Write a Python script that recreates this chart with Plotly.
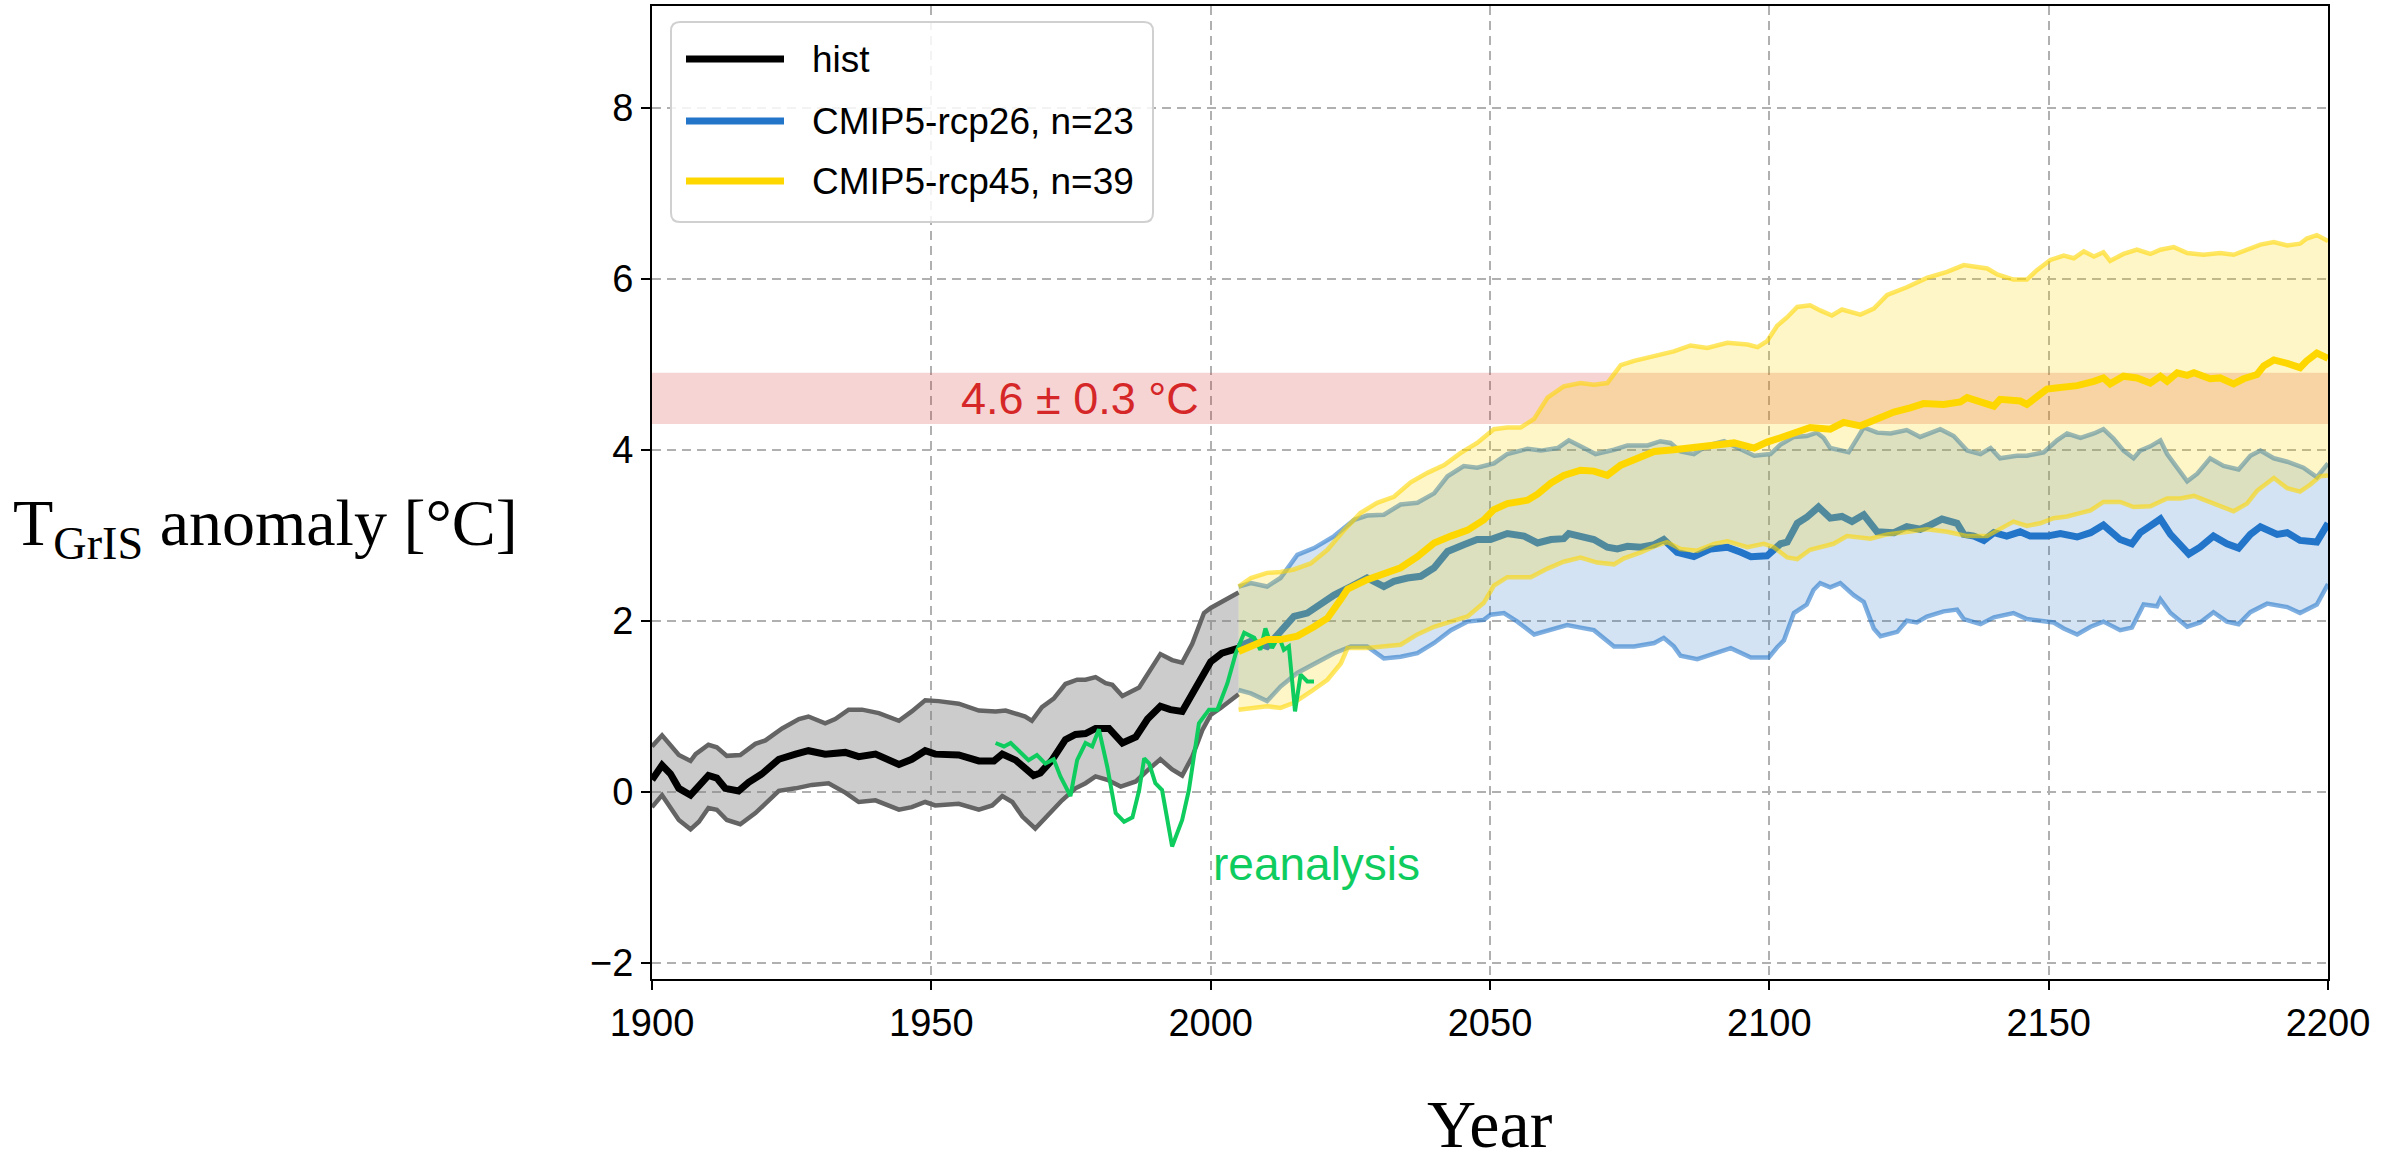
import plotly.graph_objects as go

# ------------------------------------------------------------------ data
hist_mean_years = [1900, 1901.8, 1903.3, 1904.8, 1906.9, 1908.4, 1910.1, 1911.6, 1913.1, 1915.5,
                   1917.3, 1919.7, 1922.7, 1925.7, 1928.0, 1931.0, 1934.6, 1937.0, 1940.0, 1944.2,
                   1946.5, 1948.9, 1950.7, 1954.9, 1958.5, 1961.2, 1962.7, 1965.1, 1966.8, 1968.3,
                   1969.5, 1971.6, 1974.0, 1975.8, 1977.6, 1979.4, 1981.8, 1984.2, 1986.6, 1988.7,
                   1991.0, 1992.8, 1994.9, 1996.7, 1998.5, 2000.0, 2002.0, 2005.0]
hist_mean = [0.14, 0.31, 0.21, 0.04, -0.04, 0.08, 0.19, 0.16, 0.04, 0.01,
             0.11, 0.21, 0.38, 0.44, 0.48, 0.44, 0.46, 0.41, 0.44, 0.32,
             0.38, 0.48, 0.44, 0.43, 0.36, 0.36, 0.44, 0.37, 0.28, 0.19,
             0.22, 0.37, 0.61, 0.67, 0.68, 0.74, 0.74, 0.57, 0.64, 0.85,
             1.00, 0.96, 0.94, 1.15, 1.38, 1.52, 1.62, 1.68]

hist_hi_years = [1900, 1901.8, 1904.8, 1906.9, 1907.8, 1910.1, 1911.6, 1913.4, 1915.8, 1918.5,
                 1920.3, 1923.3, 1926.3, 1928.0, 1931.0, 1932.8, 1935.2, 1937.6, 1940.6, 1944.2,
                 1946.5, 1948.9, 1951.3, 1954.9, 1958.5, 1961.5, 1963.3, 1966.8, 1968.0, 1969.8,
                 1971.9, 1974.0, 1976.1, 1977.6, 1979.4, 1981.2, 1982.4, 1984.2, 1987.2, 1988.9,
                 1991.0, 1993.1, 1994.9, 1996.7, 1998.8, 2000.0, 2001.8, 2004.2, 2005.0]
hist_hi = [0.53, 0.66, 0.43, 0.36, 0.44, 0.55, 0.52, 0.42, 0.43, 0.56,
           0.60, 0.74, 0.85, 0.88, 0.80, 0.85, 0.96, 0.96, 0.92, 0.83,
           0.94, 1.07, 1.06, 1.03, 0.95, 0.94, 0.95, 0.88, 0.83, 0.99,
           1.09, 1.26, 1.31, 1.31, 1.34, 1.27, 1.25, 1.12, 1.22, 1.39,
           1.61, 1.54, 1.51, 1.73, 2.09, 2.15, 2.21, 2.30, 2.33]

hist_lo_years = [1900, 1901.8, 1904.8, 1906.9, 1908.4, 1910.1, 1911.6, 1913.4, 1915.8, 1918.5,
                 1920.3, 1922.7, 1925.7, 1928.6, 1931.6, 1934.6, 1937.0, 1940.0, 1944.2, 1946.5,
                 1948.9, 1950.7, 1954.9, 1958.5, 1960.9, 1962.7, 1964.5, 1966.3, 1968.6, 1971.0,
                 1973.4, 1975.8, 1977.6, 1979.4, 1981.5, 1983.9, 1986.6, 1988.7, 1991.0, 1993.1,
                 1994.9, 1996.7, 1998.5, 2000.0, 2001.8, 2005.0]
hist_lo = [-0.18, -0.04, -0.33, -0.44, -0.35, -0.19, -0.21, -0.33, -0.38, -0.25,
           -0.14, 0.01, 0.04, 0.08, 0.10, -0.01, -0.12, -0.10, -0.21, -0.18,
           -0.12, -0.16, -0.14, -0.21, -0.16, -0.05, -0.12, -0.29, -0.43, -0.27,
           -0.10, 0.04, 0.10, 0.18, 0.14, 0.06, 0.12, 0.25, 0.38, 0.26,
           0.19, 0.41, 0.72, 0.90, 0.98, 1.14]

rea_years = [1961.5, 1963.0, 1964.2, 1965.7, 1967.4, 1968.9, 1970.4, 1971.9, 1973.1, 1974.9,
             1976.1, 1977.6, 1978.8, 1980.0, 1981.5, 1983.0, 1984.5, 1986.0, 1987.2, 1988.1,
             1989.0, 1990.1, 1991.3, 1993.1, 1994.9, 1996.1, 1997.9, 1999.7, 2001.2, 2003.0,
             2004.5, 2006.0, 2007.8, 2008.9, 2009.8, 2011.0, 2012.2, 2013.1, 2014.0, 2015.1,
             2016.1, 2017.3, 2018.5]
rea_vals = [0.57, 0.53, 0.57, 0.47, 0.37, 0.43, 0.33, 0.38, 0.18, -0.05,
            0.37, 0.57, 0.53, 0.73, 0.29, -0.25, -0.35, -0.30, 0.02, 0.39,
            0.33, 0.10, 0.02, -0.64, -0.33, 0.02, 0.80, 0.96, 0.96, 1.27,
            1.62, 1.86, 1.80, 1.66, 1.91, 1.68, 1.82, 1.66, 1.70, 0.94,
            1.37, 1.29, 1.29]

rcp26_mean_years = [2005.0, 2007.2, 2010.1, 2012.5, 2014.9, 2017.3, 2019.7, 2022.1, 2025.1, 2028.0,
                    2031.0, 2032.8, 2035.2, 2037.6, 2040.0, 2042.4, 2045.3, 2047.7, 2050.1, 2053.1,
                    2056.1, 2058.5, 2060.9, 2063.2, 2064.1, 2066.2, 2068.6, 2071.0, 2072.8, 2074.6,
                    2077.0, 2079.4, 2081.1, 2083.5, 2086.5, 2089.5, 2092.5, 2094.9, 2096.7, 2099.6,
                    2102.0, 2103.2, 2105.0, 2106.7, 2108.8, 2110.9, 2113.0, 2114.8, 2116.9, 2119.3,
                    2122.3, 2124.6, 2127.0, 2128.8, 2130.9, 2133.6, 2134.8, 2136.6, 2138.4, 2140.2,
                    2142.5, 2144.9, 2146.7, 2149.7, 2152.1, 2155.1, 2157.5, 2159.8, 2162.8, 2164.9,
                    2166.4, 2168.2, 2170.0, 2171.8, 2175.1, 2177.1, 2179.5, 2181.9, 2184.0, 2186.1,
                    2187.9, 2190.9, 2192.7, 2195.0, 2198.0, 2200.0]
rcp26_mean = [1.70, 1.76, 1.70, 1.88, 2.05, 2.09, 2.19, 2.30, 2.40, 2.50,
              2.40, 2.46, 2.50, 2.52, 2.62, 2.81, 2.89, 2.95, 2.95, 3.02,
              2.99, 2.91, 2.95, 2.96, 3.02, 2.98, 2.95, 2.86, 2.84, 2.87,
              2.86, 2.89, 2.95, 2.80, 2.75, 2.84, 2.86, 2.80, 2.75, 2.76,
              2.90, 2.92, 3.14, 3.21, 3.33, 3.20, 3.22, 3.16, 3.24, 3.04,
              3.03, 3.10, 3.07, 3.12, 3.19, 3.14, 3.01, 2.99, 2.94, 3.03,
              2.99, 3.04, 2.99, 2.99, 3.02, 2.98, 3.03, 3.12, 2.95, 2.90,
              3.03, 3.11, 3.19, 3.01, 2.78, 2.86, 2.99, 2.90, 2.85, 3.01,
              3.10, 3.01, 3.03, 2.94, 2.92, 3.14]

rcp26_hi_years = [2005.0, 2007.2, 2010.1, 2012.5, 2015.5, 2018.5, 2022.1, 2025.7, 2028.0, 2031.0,
                  2034.0, 2037.0, 2040.0, 2042.4, 2045.3, 2047.7, 2050.7, 2053.1, 2056.7, 2059.1,
                  2062.1, 2064.1, 2066.2, 2068.9, 2072.2, 2074.6, 2078.2, 2080.5, 2082.3, 2084.1,
                  2086.5, 2088.9, 2091.9, 2094.9, 2097.3, 2100.2, 2102.0, 2104.4, 2106.7, 2108.5,
                  2109.7, 2110.9, 2112.7, 2114.2, 2115.7, 2116.9, 2119.3, 2121.7, 2124.6, 2127.0,
                  2130.6, 2133.0, 2135.4, 2137.8, 2139.6, 2141.3, 2144.3, 2146.1, 2149.1, 2151.5,
                  2153.3, 2155.7, 2158.1, 2159.8, 2161.6, 2163.4, 2165.2, 2166.4, 2168.2, 2170.0,
                  2171.2, 2173.0, 2174.8, 2176.6, 2178.9, 2181.3, 2184.0, 2186.1, 2187.9, 2190.3,
                  2192.7, 2195.6, 2198.0, 2200.0]
rcp26_hi = [2.40, 2.44, 2.40, 2.50, 2.77, 2.85, 2.99, 3.18, 3.23, 3.24,
            3.36, 3.38, 3.49, 3.69, 3.81, 3.79, 3.84, 3.95, 4.01, 3.99,
            4.02, 4.11, 4.04, 3.95, 4.00, 4.05, 4.05, 4.10, 4.08, 3.98,
            3.95, 4.05, 4.10, 4.00, 3.93, 3.95, 4.06, 4.15, 4.16, 4.20,
            4.14, 4.02, 3.99, 3.97, 4.13, 4.26, 4.20, 4.19, 4.23, 4.15,
            4.24, 4.16, 3.99, 3.95, 4.02, 3.90, 3.93, 3.93, 3.97, 4.11,
            4.19, 4.14, 4.19, 4.24, 4.13, 3.99, 3.90, 3.99, 4.04, 4.11,
            3.95, 3.79, 3.63, 3.72, 3.90, 3.81, 3.77, 3.93, 3.99, 3.90,
            3.86, 3.79, 3.68, 3.84]

rcp26_lo_years = [2005.0, 2007.2, 2010.1, 2012.5, 2015.5, 2018.5, 2022.1, 2025.1, 2028.0, 2031.0,
                  2034.0, 2037.0, 2040.0, 2043.0, 2046.0, 2048.9, 2050.1, 2052.5, 2054.9, 2057.9,
                  2060.9, 2063.8, 2066.2, 2068.6, 2072.2, 2075.8, 2079.4, 2081.1, 2082.9, 2084.1,
                  2087.1, 2090.1, 2093.1, 2096.7, 2099.9, 2101.4, 2102.6, 2104.4, 2106.7, 2107.9,
                  2109.1, 2110.9, 2112.7, 2115.1, 2116.9, 2118.7, 2119.9, 2122.9, 2124.6, 2126.4,
                  2128.2, 2131.2, 2133.6, 2134.8, 2137.8, 2140.2, 2143.7, 2146.1, 2149.1, 2150.9,
                  2152.7, 2155.1, 2157.5, 2159.8, 2162.8, 2164.9, 2167.0, 2169.4, 2170.0, 2171.8,
                  2174.8, 2177.1, 2179.5, 2181.9, 2184.0, 2186.1, 2189.1, 2192.7, 2195.0, 2198.0,
                  2200.0]
rcp26_lo = [1.19, 1.15, 1.06, 1.23, 1.39, 1.50, 1.62, 1.70, 1.70, 1.56,
            1.58, 1.62, 1.74, 1.89, 1.99, 2.01, 2.07, 2.09, 1.99, 1.84,
            1.89, 1.95, 1.92, 1.89, 1.70, 1.70, 1.74, 1.80, 1.70, 1.59,
            1.55, 1.61, 1.68, 1.57, 1.57, 1.69, 1.77, 2.09, 2.19, 2.36,
            2.44, 2.39, 2.44, 2.30, 2.22, 1.91, 1.82, 1.87, 2.00, 1.98,
            2.05, 2.11, 2.13, 2.02, 1.96, 2.04, 2.09, 2.02, 2.00, 1.98,
            1.91, 1.84, 1.93, 1.99, 1.89, 1.92, 2.19, 2.17, 2.25, 2.09,
            1.93, 1.98, 2.10, 1.99, 1.96, 2.10, 2.20, 2.16, 2.09, 2.19,
            2.43]

rcp45_mean_years = [2005.0, 2007.2, 2010.1, 2012.5, 2015.5, 2018.5, 2020.9, 2023.3, 2024.5, 2028.0,
                    2031.0, 2034.0, 2037.0, 2040.0, 2043.0, 2046.0, 2048.9, 2050.7, 2053.1, 2056.7,
                    2058.5, 2060.9, 2063.2, 2066.2, 2068.6, 2071.0, 2073.4, 2075.8, 2079.4, 2082.9,
                    2085.3, 2087.7, 2090.1, 2093.7, 2097.3, 2099.6, 2102.0, 2104.4, 2107.3, 2110.9,
                    2113.3, 2116.3, 2119.3, 2122.3, 2125.2, 2127.6, 2131.2, 2134.2, 2135.4, 2137.8,
                    2140.2, 2141.3, 2144.9, 2146.1, 2147.9, 2149.7, 2150.9, 2153.3, 2155.1, 2158.1,
                    2159.8, 2161.0, 2163.4, 2165.8, 2168.2, 2170.0, 2171.2, 2173.0, 2174.8, 2176.0,
                    2178.9, 2180.7, 2183.1, 2184.9, 2187.3, 2188.5, 2190.3, 2192.7, 2195.0, 2196.2,
                    2198.0, 2200.0]
rcp45_mean = [1.64, 1.70, 1.78, 1.78, 1.82, 1.93, 2.03, 2.25, 2.37, 2.48,
              2.56, 2.62, 2.75, 2.91, 2.99, 3.06, 3.18, 3.30, 3.37, 3.41,
              3.48, 3.61, 3.70, 3.76, 3.75, 3.70, 3.82, 3.89, 3.98, 4.00,
              4.02, 4.02, 4.05, 4.08, 4.02, 4.09, 4.14, 4.19, 4.26, 4.24,
              4.32, 4.28, 4.36, 4.44, 4.49, 4.54, 4.53, 4.56, 4.61, 4.57,
              4.51, 4.59, 4.57, 4.53, 4.62, 4.71, 4.72, 4.74, 4.75, 4.80,
              4.84, 4.77, 4.86, 4.84, 4.78, 4.86, 4.80, 4.90, 4.87, 4.90,
              4.83, 4.84, 4.77, 4.83, 4.88, 4.98, 5.05, 5.01, 4.96, 5.04,
              5.13, 5.07]

rcp45_hi_years = [2005.0, 2007.2, 2010.1, 2012.5, 2014.9, 2017.9, 2020.9, 2023.9, 2026.8, 2029.8,
                  2032.8, 2035.8, 2038.8, 2041.8, 2044.7, 2047.7, 2050.7, 2053.1, 2055.5, 2057.9,
                  2060.3, 2063.2, 2066.2, 2068.6, 2071.0, 2073.4, 2075.8, 2079.4, 2082.9, 2085.9,
                  2088.9, 2092.5, 2096.1, 2097.9, 2099.6, 2101.4, 2103.2, 2105.0, 2107.3, 2109.1,
                  2111.2, 2113.0, 2116.3, 2118.7, 2121.1, 2124.6, 2128.2, 2131.8, 2134.8, 2139.0,
                  2140.8, 2143.7, 2146.1, 2147.9, 2150.3, 2152.7, 2154.5, 2156.3, 2158.1, 2159.8,
                  2161.0, 2163.4, 2165.8, 2168.2, 2170.0, 2172.4, 2174.8, 2177.7, 2180.7, 2183.1,
                  2185.5, 2187.9, 2190.3, 2192.7, 2195.0, 2196.2, 2198.0, 2200.0]
rcp45_hi = [2.40, 2.50, 2.56, 2.57, 2.60, 2.67, 2.83, 3.06, 3.26, 3.38,
            3.45, 3.62, 3.73, 3.82, 3.96, 4.08, 4.24, 4.26, 4.26, 4.36,
            4.61, 4.74, 4.78, 4.76, 4.78, 4.99, 5.04, 5.10, 5.15, 5.22,
            5.19, 5.25, 5.23, 5.20, 5.27, 5.45, 5.55, 5.67, 5.69, 5.63,
            5.57, 5.64, 5.58, 5.65, 5.81, 5.90, 6.01, 6.08, 6.16, 6.12,
            6.05, 5.99, 5.99, 6.10, 6.22, 6.27, 6.24, 6.32, 6.26, 6.31,
            6.21, 6.29, 6.34, 6.29, 6.34, 6.37, 6.30, 6.28, 6.30, 6.28,
            6.34, 6.40, 6.43, 6.39, 6.41, 6.47, 6.51, 6.44]

rcp45_lo_years = [2005.0, 2007.2, 2010.1, 2012.5, 2014.9, 2017.9, 2020.9, 2023.3, 2024.5, 2028.0,
                  2031.6, 2034.0, 2037.0, 2040.0, 2043.0, 2046.0, 2048.9, 2050.7, 2053.1, 2057.3,
                  2060.3, 2063.2, 2066.2, 2069.2, 2072.2, 2074.0, 2077.0, 2079.4, 2081.7, 2084.1,
                  2087.1, 2090.1, 2092.5, 2096.1, 2099.0, 2100.8, 2103.2, 2105.0, 2107.3, 2109.7,
                  2111.5, 2113.9, 2118.1, 2121.1, 2124.0, 2128.2, 2131.8, 2135.4, 2139.0, 2141.3,
                  2143.7, 2146.1, 2148.5, 2150.9, 2153.3, 2155.1, 2157.5, 2159.8, 2162.8, 2165.2,
                  2168.2, 2171.2, 2173.6, 2176.0, 2178.9, 2180.7, 2183.1, 2185.5, 2187.3, 2190.3,
                  2192.7, 2195.0, 2196.8, 2198.6, 2200.0]
rcp45_lo = [0.96, 0.98, 1.00, 0.98, 1.04, 1.17, 1.31, 1.50, 1.68, 1.68,
            1.70, 1.72, 1.84, 1.93, 1.99, 2.05, 2.21, 2.41, 2.51, 2.51,
            2.61, 2.69, 2.74, 2.68, 2.66, 2.73, 2.80, 2.87, 2.92, 2.84,
            2.82, 2.90, 2.93, 2.86, 2.90, 2.86, 2.74, 2.72, 2.83, 2.87,
            2.90, 2.99, 2.96, 3.01, 3.03, 3.07, 3.04, 2.99, 2.99, 3.07,
            3.16, 3.11, 3.14, 3.20, 3.22, 3.25, 3.29, 3.39, 3.39, 3.33,
            3.34, 3.43, 3.43, 3.46, 3.39, 3.35, 3.28, 3.37, 3.52, 3.67,
            3.55, 3.51, 3.59, 3.69, 3.70]

threshold_center = 4.6
threshold_err = 0.3
x_ticks = [1900, 1950, 2000, 2050, 2100, 2150, 2200]
y_ticks = [-2, 0, 2, 4, 6, 8]
legend_labels = ["hist", "CMIP5-rcp26, n=23", "CMIP5-rcp45, n=39"]

# ------------------------------------------------------------------ styling
C_HIST = "#000000"
C_HIST_EDGE = "#646464"
C_HIST_FILL = "rgba(128,128,128,0.40)"
C_26 = "#2275C9"
C_26_EDGE = "rgba(34,117,201,0.58)"
C_26_FILL = "rgba(34,117,201,0.20)"
C_45 = "#FFD700"
C_45_EDGE = "rgba(255,215,0,0.60)"
C_45_FILL = "rgba(255,215,0,0.22)"
C_REA = "#0fcc5f"
C_RED = "#d62728"
SANS = "Liberation Sans, Arial, sans-serif"
SERIF = "Liberation Serif, Times New Roman, serif"

FIG_W, FIG_H = 2405, 1163
M_L, M_R, M_T, M_B = 652, 77, 6, 184
PLOT_W = FIG_W - M_L - M_R
PLOT_H = FIG_H - M_T - M_B


def xp(p):
    return (p - M_L) / PLOT_W


def yp(p):
    return (FIG_H - M_B - p) / PLOT_H


fig = go.Figure()


def band(xh, yh, xl, yl, color, name):
    fig.add_trace(go.Scatter(x=list(xh) + list(xl)[::-1], y=list(yh) + list(yl)[::-1],
                             fill="toself", fillcolor=color, mode="lines",
                             line=dict(width=0), hoverinfo="skip", showlegend=False, name=name))


def line(x, y, color, width, name):
    fig.add_trace(go.Scatter(x=x, y=y, mode="lines", line=dict(color=color, width=width),
                             showlegend=False, name=name))


band(hist_hi_years, hist_hi, hist_lo_years, hist_lo, C_HIST_FILL, "hist range")
line(hist_hi_years, hist_hi, C_HIST_EDGE, 4.5, "hist max")
line(hist_lo_years, hist_lo, C_HIST_EDGE, 4.5, "hist min")

band(rcp26_hi_years, rcp26_hi, rcp26_lo_years, rcp26_lo, C_26_FILL, "rcp26 range")
line(rcp26_hi_years, rcp26_hi, C_26_EDGE, 4.5, "rcp26 max")
line(rcp26_lo_years, rcp26_lo, C_26_EDGE, 4.5, "rcp26 min")
line(rcp26_mean_years, rcp26_mean, C_26, 7, "CMIP5-rcp26, n=23")

band(rcp45_hi_years, rcp45_hi, rcp45_lo_years, rcp45_lo, C_45_FILL, "rcp45 range")
line(rcp45_hi_years, rcp45_hi, C_45_EDGE, 4.5, "rcp45 max")
line(rcp45_lo_years, rcp45_lo, C_45_EDGE, 4.5, "rcp45 min")

line(hist_mean_years, hist_mean, C_HIST, 7, "hist")
line(rea_years, rea_vals, C_REA, 4, "reanalysis")
line(rcp45_mean_years, rcp45_mean, C_45, 7, "CMIP5-rcp45, n=39")

shapes = [dict(type="rect", xref="x", yref="y", x0=x_ticks[0], x1=x_ticks[-1],
               y0=threshold_center - threshold_err, y1=threshold_center + threshold_err,
               fillcolor="rgba(214,39,40,0.20)", line=dict(width=0), layer="between")]

# ---------------- legend (drawn manually to mimic the long line samples)
bx0, bx1, by0, by1, r = 671, 1153, 22, 222, 9
path = (f"M {xp(bx0 + r)},{yp(by0)} L {xp(bx1 - r)},{yp(by0)} "
        f"Q {xp(bx1)},{yp(by0)} {xp(bx1)},{yp(by0 + r)} L {xp(bx1)},{yp(by1 - r)} "
        f"Q {xp(bx1)},{yp(by1)} {xp(bx1 - r)},{yp(by1)} L {xp(bx0 + r)},{yp(by1)} "
        f"Q {xp(bx0)},{yp(by1)} {xp(bx0)},{yp(by1 - r)} L {xp(bx0)},{yp(by0 + r)} "
        f"Q {xp(bx0)},{yp(by0)} {xp(bx0 + r)},{yp(by0)} Z")
shapes.append(dict(type="path", xref="paper", yref="paper", path=path,
                   fillcolor="rgba(255,255,255,0.85)", line=dict(color="#d0d0d0", width=2),
                   layer="above"))
annotations = []
for label, color, ypx in zip(legend_labels, [C_HIST, C_26, C_45], [59, 121, 181]):
    shapes.append(dict(type="line", xref="paper", yref="paper", x0=xp(686), x1=xp(784),
                       y0=yp(ypx), y1=yp(ypx), line=dict(color=color, width=7), layer="above"))
    annotations.append(dict(x=xp(810), y=yp(ypx), xref="paper", yref="paper", text=label,
                            showarrow=False, xanchor="left", yanchor="middle",
                            font=dict(family=SANS, size=37, color="black")))

annotations += [
    dict(x=1955, y=threshold_center, xref="x", yref="y", text="4.6 ± 0.3 °C", showarrow=False,
         xanchor="left", yanchor="middle", font=dict(family=SANS, size=45, color=C_RED)),
    dict(x=2000, y=-0.85, xref="x", yref="y", text="reanalysis", showarrow=False,
         xanchor="left", yanchor="middle", font=dict(family=SANS, size=46, color=C_REA)),
    dict(x=xp(265), y=yp(527), xref="paper", yref="paper",
         text="T<sub>GrIS</sub> anomaly [°C]", showarrow=False, xanchor="center",
         yanchor="middle", font=dict(family=SERIF, size=66, color="black")),
    dict(x=0.5, y=yp(1124), xref="paper", yref="paper", text="Year", showarrow=False,
         xanchor="center", yanchor="middle", font=dict(family=SERIF, size=68, color="black")),
]

axis_common = dict(showgrid=True, gridcolor="#b0b0b0", gridwidth=1.6, griddash="9px,6px",
                   showline=True, linecolor="black", linewidth=2, mirror=True,
                   ticks="outside", ticklen=9, tickwidth=2, tickcolor="black", zeroline=False,
                   tickfont=dict(family=SANS, size=38, color="black"))

fig.update_layout(
    width=FIG_W, height=FIG_H,
    margin=dict(l=M_L, r=M_R, t=M_T, b=M_B, autoexpand=False),
    paper_bgcolor="white", plot_bgcolor="white",
    showlegend=False,
    xaxis=dict(range=[1900, 2200], tickvals=x_ticks, **axis_common),
    yaxis=dict(range=[-2.19, 9.19], tickvals=y_ticks, **axis_common),
    shapes=shapes,
    annotations=annotations,
)

fig.write_html("out.html")
